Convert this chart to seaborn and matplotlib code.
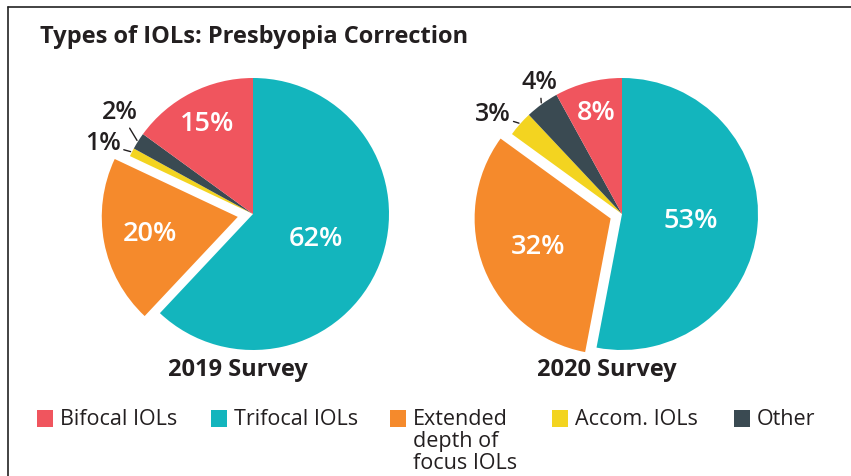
import numpy as np
import matplotlib
matplotlib.use("Agg")
import matplotlib.pyplot as plt
from matplotlib.patches import Rectangle
from matplotlib.lines import Line2D
import seaborn as sns

# data
categories = ["Trifocal IOLs", "Extended\ndepth of\nfocus IOLs", "Accom. IOLs", "Other", "Bifocal IOLs"]
legend_order = ["Bifocal IOLs", "Trifocal IOLs", "Extended\ndepth of\nfocus IOLs", "Accom. IOLs", "Other"]
surveys = ["2019 Survey", "2020 Survey"]
values_2019 = [62, 20, 1, 2, 15]
values_2020 = [53, 32, 3, 4, 8]

colors = {
    "Bifocal IOLs": "#F0555E",
    "Trifocal IOLs": "#13B5BD",
    "Extended\ndepth of\nfocus IOLs": "#F58A2C",
    "Accom. IOLs": "#F3D420",
    "Other": "#3A4A52",
}
TEXT = "#231F20"

sns.set_theme(style="white")
plt.rcParams["font.family"] = ["Open Sans", "DejaVu Sans"]

W, H = 851, 476
fig = plt.figure(figsize=(W / 100, H / 100), dpi=100)

R = 136  # pie radius in px
half = 190


def pie_axes(cx, cy):
    ax = fig.add_axes([(cx - half) / W, (H - cy - half) / H, 2 * half / W, 2 * half / H])
    ax.axis("off")
    return ax


def draw_pie(ax, values, title, expl, inner_r, outside):
    cols = [colors[c] for c in categories]
    explode = [0, expl, 0, 0, 0]
    ax.pie(values, colors=cols, startangle=90, counterclock=False, explode=explode,
           radius=1.0, wedgeprops=dict(linewidth=0))
    ax.set_xlim(-half / R, half / R)
    ax.set_ylim(-half / R, half / R)
    total = sum(values)
    cum = 0
    for i, v in enumerate(values):
        mid = 90 - 360 * (cum + v / 2) / total
        cum += v
        a = np.deg2rad(mid)
        if i in outside:
            r_txt, dang = outside[i]
            at = np.deg2rad(mid + dang)
            ax.annotate(f"{v}%", xy=(1.01 * np.cos(a), 1.01 * np.sin(a)),
                        xytext=(r_txt * np.cos(at), r_txt * np.sin(at)),
                        ha="center", va="center", fontsize=18, fontweight="semibold", color=TEXT,
                        arrowprops=dict(arrowstyle="-", color=TEXT, lw=1.0, shrinkA=11, shrinkB=0))
        else:
            r = inner_r[i] + explode[i]
            ax.text(r * np.cos(a), r * np.sin(a), f"{v}%", ha="center", va="center",
                    fontsize=19.5, fontweight="semibold", color="white")
    ax.text(-0.11, -1.15, title, ha="center", va="center", fontsize=17,
            fontweight="bold", color=TEXT)


ax1 = pie_axes(253, 214)
draw_pie(ax1, values_2019, surveys[0], 0.114, [0.5, 0.66, 0.7, 0.7, 0.74],
         {2: (1.22, 2), 3: (1.23, -5)})
ax2 = pie_axes(622, 214)
draw_pie(ax2, values_2020, surveys[1], 0.09, [0.51, 0.57, 0.7, 0.7, 0.77],
         {2: (1.2, 4), 3: (1.14, -4)})

fig.text(40 / W, 1 - 37 / H, "Types of IOLs: Presbyopia Correction", ha="left", va="center",
         fontsize=17, fontweight="bold", color=TEXT)

# legend, laid out as in the reference (first lines aligned, wrapped lines hang below)
leg_x = [37, 211, 390, 552, 734]
for x, lab in zip(leg_x, legend_order):
    fig.add_artist(Rectangle((x / W, 1 - 427 / H), 16 / W, 17 / H, transform=fig.transFigure,
                             facecolor=colors[lab], edgecolor="none"))
    fig.text((x + 23) / W, 1 - 409 / H, lab, ha="left", va="top", fontsize=15.5,
             color=TEXT, linespacing=1.05)

# frame lines (top and left)
fig.add_artist(Line2D([8 / W, 1], [1 - 7 / H, 1 - 7 / H], transform=fig.transFigure,
                      color="#222222", lw=1.2))
fig.add_artist(Line2D([8 / W, 8 / W], [1 - 7 / H, 0], transform=fig.transFigure,
                      color="#222222", lw=1.2))

fig.savefig("out.png", dpi=100, facecolor="white")
